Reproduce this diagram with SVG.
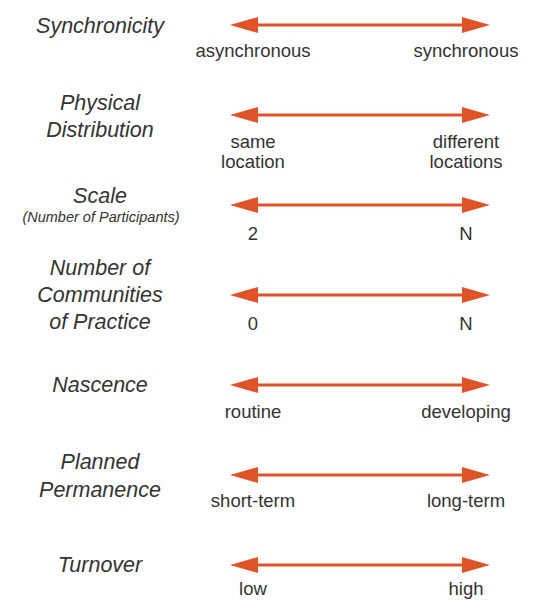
<svg xmlns="http://www.w3.org/2000/svg" xmlns:xlink="http://www.w3.org/1999/xlink" width="546" height="600" viewBox="0 0 546 600">
<style>
.t{font-family:"Liberation Sans",Arial,sans-serif;font-style:italic;font-size:21.5px;fill:#333;text-anchor:middle}
.s{font-family:"Liberation Sans",Arial,sans-serif;font-style:italic;font-size:14.5px;fill:#333;text-anchor:middle}
.l{font-family:"Liberation Sans",Arial,sans-serif;font-size:18.5px;fill:#333;text-anchor:middle}
.ln{stroke:#DE5428;stroke-width:3}
.hd{fill:#DE5428}
</style>
<defs>
<g id="arr">
<line class="ln" x1="255" y1="0" x2="465" y2="0"/>
<polygon class="hd" points="230,0 258,-8 258,8"/>
<polygon class="hd" points="490,0 462,-8 462,8"/>
</g>
</defs>
<rect width="546" height="600" fill="#fff"/>
<g id="connectors">
<use xlink:href="#arr" y="25"/>
<use xlink:href="#arr" y="115"/>
<use xlink:href="#arr" y="205"/>
<use xlink:href="#arr" y="295"/>
<use xlink:href="#arr" y="385"/>
<use xlink:href="#arr" y="475"/>
<use xlink:href="#arr" y="565"/>
</g>
<g id="synchronicity">
<text class="t" x="100" y="33">Synchronicity</text>
<text class="l" x="253" y="57">asynchronous</text>
<text class="l" x="466" y="57">synchronous</text>
</g>
<g id="physical-distribution">
<text class="t" x="100" y="110">Physical</text>
<text class="t" x="100" y="137">Distribution</text>
<text class="l" x="253" y="148">same</text>
<text class="l" x="253" y="168">location</text>
<text class="l" x="466" y="148">different</text>
<text class="l" x="466" y="168">locations</text>
</g>
<g id="scale">
<text class="t" x="100" y="203">Scale</text>
<text class="s" x="101" y="222">(Number of Participants)</text>
<text class="l" x="253" y="240">2</text>
<text class="l" x="466" y="240">N</text>
</g>
<g id="communities">
<text class="t" x="100" y="275">Number of</text>
<text class="t" x="100" y="302">Communities</text>
<text class="t" x="100" y="329">of Practice</text>
<text class="l" x="253" y="330">0</text>
<text class="l" x="466" y="330">N</text>
</g>
<g id="nascence">
<text class="t" x="100" y="392">Nascence</text>
<text class="l" x="253" y="418">routine</text>
<text class="l" x="466" y="418">developing</text>
</g>
<g id="planned-permanence">
<text class="t" x="100" y="469">Planned</text>
<text class="t" x="100" y="497">Permanence</text>
<text class="l" x="253" y="507">short-term</text>
<text class="l" x="466" y="507">long-term</text>
</g>
<g id="turnover">
<text class="t" x="100" y="572">Turnover</text>
<text class="l" x="253" y="595">low</text>
<text class="l" x="466" y="595">high</text>
</g>
</svg>
